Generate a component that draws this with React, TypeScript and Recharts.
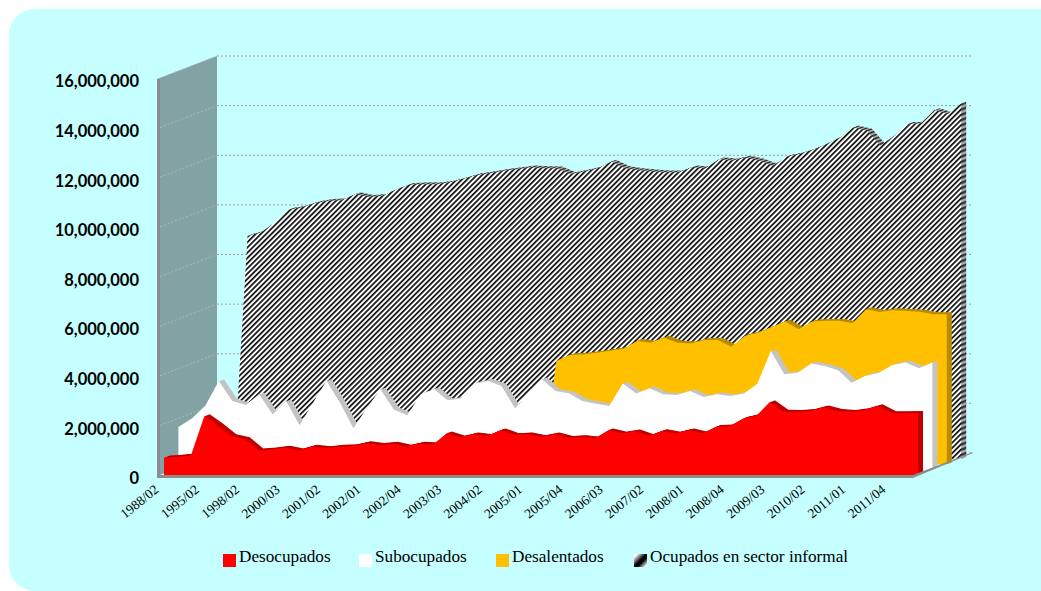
import React from "react";
import {
  Area,
  AreaChart,
  Legend,
  ReferenceArea,
  ReferenceLine,
  XAxis,
  YAxis,
} from "recharts";

const periods = [
  "1988/02", "1991/02", "1993/02", "1995/02", "1996/02", "1997/02", "1998/02", "1999/02",
  "2000/02", "2000/03", "2000/04", "2001/01", "2001/02", "2001/03", "2001/04", "2002/01",
  "2002/02", "2002/03", "2002/04", "2003/01", "2003/02", "2003/03", "2003/04", "2004/01",
  "2004/02", "2004/03", "2004/04", "2005/01", "2005/02", "2005/03", "2005/04", "2006/01",
  "2006/02", "2006/03", "2006/04", "2007/01", "2007/02", "2007/03", "2007/04", "2008/01",
  "2008/02", "2008/03", "2008/04", "2009/01", "2009/02", "2009/03", "2009/04", "2010/01",
  "2010/02", "2010/03", "2010/04", "2011/01", "2011/02", "2011/03", "2011/04", "2012/01",
  "2012/02",
];

const desocupados = [
  720000, 760000, 810000, 2400000, 2020000, 1590000, 1460000, 1010000, 1050000, 1120000,
  1010000, 1160000, 1100000, 1160000, 1180000, 1300000, 1230000, 1280000, 1160000, 1280000,
  1250000, 1700000, 1530000, 1660000, 1590000, 1820000, 1630000, 1660000, 1550000, 1660000,
  1520000, 1550000, 1490000, 1820000, 1690000, 1780000, 1590000, 1790000, 1690000, 1820000,
  1690000, 1960000, 1980000, 2290000, 2410000, 2960000, 2570000, 2560000, 2600000, 2740000,
  2600000, 2560000, 2630000, 2790000, 2510000, 2510000, 2520000,
];

const subocupados = [
  1730000, 2080000, 2590000, 3590000, 2780000, 2620000, 3050000, 2240000, 2780000, 1800000,
  2710000, 3600000, 2710000, 1680000, 2510000, 3250000, 2440000, 2210000, 3050000, 3250000,
  2810000, 2880000, 3480000, 3590000, 3390000, 2480000, 3100000, 3660000, 3180000, 3090000,
  2780000, 2670000, 2580000, 3490000, 3080000, 3290000, 3050000, 3020000, 3180000, 2940000,
  3050000, 2980000, 3080000, 3480000, 4800000, 3860000, 3920000, 4290000, 4190000, 4020000,
  3520000, 3790000, 3910000, 4220000, 4330000, 4100000, 4330000,
];

const desalentados = [
  null, null, null, null, null, null, null, null, null, null,
  null, null, null, null, null, null, null, null, null, null,
  null, null, null, null, null, null, 0, 4170000, 4410000, 4430000,
  4500000, 4580000, 4660000, 4980000, 4910000, 5110000, 4910000, 4880000, 5020000, 5020000,
  4750000, 5180000, 5310000, 5540000, 5760000, 5450000, 5760000, 5790000, 5790000, 5690000,
  6260000, 6150000, 6220000, 6190000, 6160000, 6060000, 6060000,
];

const informal = [
  null, null, 0, 8990000, 9130000, 9530000, 10040000, 10130000, 10310000, 10400000,
  10430000, 10670000, 10560000, 10600000, 10850000, 11050000, 11070000, 11070000, 11140000, 11280000,
  11440000, 11520000, 11610000, 11680000, 11750000, 11720000, 11710000, 11480000, 11590000, 11710000,
  11980000, 11720000, 11640000, 11590000, 11550000, 11550000, 11750000, 11710000, 12080000, 12020000,
  12150000, 12020000, 11810000, 12180000, 12290000, 12460000, 12690000, 12960000, 13360000, 13230000,
  12620000, 13020000, 13500000, 13520000, 14060000, 13900000, 14330000,
];

const yTicks = [0, 2000000, 4000000, 6000000, 8000000, 10000000, 12000000, 14000000, 16000000];

const chartData = periods.map((period, i) => ({
  period,
  desocupados: desocupados[i],
  subocupados: subocupados[i],
  desalentados: desalentados[i],
  informal: informal[i],
}));

// back to front, each series sits on its own depth plane
const series = [
  { key: "informal", name: "Ocupados en sector informal", fill: "url(#hatch)", side: "url(#hatchDark)" },
  { key: "desalentados", name: "Desalentados", fill: "#ffc000", side: "#b98b00" },
  { key: "subocupados", name: "Subocupados", fill: "#ffffff", side: "#c4c4c4" },
  { key: "desocupados", name: "Desocupados", fill: "#ff0000", side: "#c00000" },
];

const legendItems = [
  { name: "Desocupados", left: 223, swatch: "#ff0000" },
  { name: "Subocupados", left: 359, swatch: "#ffffff" },
  { name: "Desalentados", left: 496, swatch: "#ffc000" },
  {
    name: "Ocupados en sector informal",
    left: 634,
    swatch: "linear-gradient(135deg, #fff 12%, #000 48%, #000 62%, #fff 92%)",
  },
];

const DEPTH_X = 60;
const DEPTH_Y = 23;
const bandSteps = [5, 4, 3, 2, 1];
const serif = '"Liberation Serif", "Times New Roman", serif';

function planeOffset(index: number) {
  // index 0 is the backmost series
  const d = 3 - index;
  return { dx: 7 + 14.4 * d, dy: -0.5 - 5.5 * d };
}

function Walls(props: any) {
  const { x, y, width, height } = props;
  const bottom = y + height;
  return (
    <g>
      <polygon
        points={`${x},${y} ${x + DEPTH_X},${y - DEPTH_Y} ${x + DEPTH_X},${bottom - DEPTH_Y} ${x},${bottom}`}
        fill="#82a3a3"
      />
    </g>
  );
}

function FrontEdges(props: any) {
  const { x, y, width, height } = props;
  const bottom = y + height;
  const right = x + width + 2;
  return (
    <g fill="#8c8c8c">
      <rect x={x} y={y} width={3} height={height + 2} />
      <polygon
        points={`${x},${bottom - 1} ${right},${bottom - 1} ${right + DEPTH_X},${bottom - DEPTH_Y - 1} ${right + DEPTH_X},${bottom - DEPTH_Y} ${right},${bottom + 2} ${x},${bottom + 2}`}
      />
    </g>
  );
}

function GridShape(props: any) {
  const { x1, y1, x2 } = props;
  const right = x2 + 2;
  return (
    <g fill="none" strokeWidth={1} strokeDasharray="2 2">
      <line x1={x1 + 3} y1={y1 - 1} x2={x1 + DEPTH_X} y2={y1 - DEPTH_Y} stroke="#a9b9b9" />
      <line x1={x1 + DEPTH_X} y1={y1 - DEPTH_Y} x2={right + DEPTH_X} y2={y1 - DEPTH_Y} stroke="#a09c9c" />
    </g>
  );
}

function PeriodTick(props: any) {
  const { x, y, payload } = props;
  return (
    <text
      x={x}
      y={y}
      dy={4}
      textAnchor="end"
      fontFamily={serif}
      fontSize={13.5}
      fill="#000"
      transform={`rotate(-39 ${x} ${y})`}
    >
      {payload.value}
    </text>
  );
}

function LegendRow() {
  return (
    <div style={{ position: "relative", width: 1041, height: 24, fontFamily: serif, fontSize: 17.2, color: "#000" }}>
      {legendItems.map((item) => (
        <div key={item.name} style={{ position: "absolute", left: item.left, top: 0, whiteSpace: "nowrap", lineHeight: "20px" }}>
          <span
            style={{
              position: "absolute",
              left: 0,
              top: 7,
              width: 13,
              height: 13,
              background: item.swatch,
            }}
          />
          <span style={{ marginLeft: 16 }}>{item.name}</span>
        </div>
      ))}
    </div>
  );
}

export default function App() {
  return (
    <div style={{ position: "absolute", left: 0, top: 0, width: 1041, height: 591, overflow: "hidden", background: "#fff" }}>
      <div
        style={{
          position: "absolute",
          left: 9,
          top: 9,
          width: 1070,
          height: 582,
          borderRadius: 26,
          background: "#c6ffff",
        }}
      />
      <div style={{ position: "absolute", left: 0, top: 0 }}>
        <AreaChart
          width={1041}
          height={591}
          data={chartData}
          margin={{ top: 79, right: 130, bottom: 31, left: 57 }}
        >
          <defs>
            <pattern id="hatch" width="3.7" height="3.7" patternUnits="userSpaceOnUse" patternTransform="rotate(45)">
              <rect width="3.7" height="3.7" fill="#ffffff" />
              <rect width="1.7" height="3.7" fill="#0c0c0c" />
            </pattern>
            <pattern id="hatchDark" width="3.7" height="3.7" patternUnits="userSpaceOnUse" patternTransform="rotate(45)">
              <rect width="3.7" height="3.7" fill="#acacac" />
              <rect width="1.7" height="3.7" fill="#2a2a2a" />
            </pattern>
          </defs>
          <XAxis
            dataKey="period"
            interval={2}
            axisLine={false}
            tickLine={false}
            tickSize={0}
            tickMargin={12}
            height={60}
            tick={<PeriodTick />}
          />
          <YAxis
            domain={[0, 16000000]}
            ticks={yTicks}
            width={100}
            axisLine={false}
            tickLine={false}
            tickSize={0}
            tickMargin={18}
            tickFormatter={(v: number) => v.toLocaleString("en-US")}
            tick={{ fontFamily: "Lato, sans-serif", fontWeight: 700, fontSize: 16.5, fill: "#000", dy: 2.5 }}
          />
          <ReferenceArea y1={0} y2={16000000} fill="none" stroke="none" shape={Walls} zIndex={-60} />
          {yTicks.map((v) => (
            <ReferenceLine key={v} y={v} shape={GridShape} zIndex={-50} />
          ))}
          {series.flatMap((s, index) => {
            const { dx, dy } = planeOffset(index);
            const bands = bandSteps.map((k) => (
              <Area
                key={`${s.key}-band-${k}`}
                dataKey={s.key}
                type="linear"
                fill={s.side}
                fillOpacity={1}
                stroke="none"
                dot={false}
                activeDot={false}
                legendType="none"
                isAnimationActive={false}
                transform={`translate(${dx + k},${dy - k * 0.38})`}
              />
            ));
            return [
              ...bands,
              <Area
                key={s.key}
                dataKey={s.key}
                name={s.name}
                type="linear"
                fill={s.fill}
                fillOpacity={1}
                stroke="none"
                dot={false}
                activeDot={false}
                isAnimationActive={false}
                transform={`translate(${dx},${dy})`}
              />,
            ];
          })}
          <ReferenceArea y1={0} y2={16000000} fill="none" stroke="none" shape={FrontEdges} zIndex={450} />
          <Legend
            content={<LegendRow />}
            wrapperStyle={{ position: "absolute", left: 0, top: 547, width: 1041, bottom: "auto" }}
          />
        </AreaChart>
      </div>
    </div>
  );
}
